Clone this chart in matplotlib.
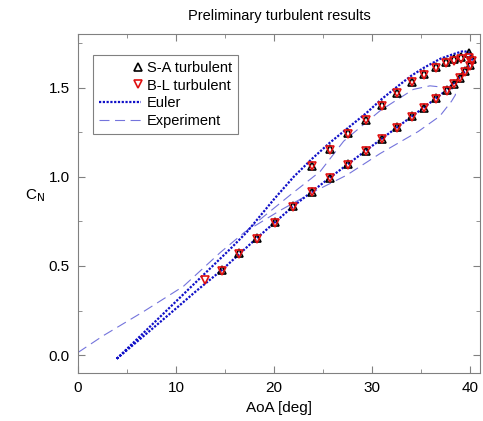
import numpy as np
import matplotlib
matplotlib.use("Agg")
import matplotlib.pyplot as plt
from matplotlib.legend_handler import HandlerLine2D

plt.rcParams['font.family'] = ['Liberation Sans', 'DejaVu Sans']

# S-A turbulent: lower branch (pitch up) then upper branch (pitch down)
sa_aoa = [14.66, 16.46, 18.23, 20.13, 21.97, 23.85, 25.71, 27.58, 29.36, 30.99,
          32.58, 34.05, 35.31, 36.53, 37.62, 38.37, 38.98, 39.49, 39.93, 40.17,
          39.83, 39.08, 38.30, 37.55, 36.53, 35.31, 34.05, 32.52, 30.99, 29.36,
          27.58, 25.71, 23.85]
sa_cn = [0.477, 0.572, 0.656, 0.745, 0.836, 0.915, 0.996, 1.071, 1.147, 1.213,
         1.279, 1.340, 1.387, 1.439, 1.484, 1.522, 1.556, 1.594, 1.628, 1.660,
         1.692, 1.672, 1.658, 1.645, 1.617, 1.575, 1.534, 1.471, 1.402, 1.320,
         1.245, 1.156, 1.062]

# B-L turbulent
bl_aoa = [12.96, 14.66, 16.46, 18.23, 20.13, 21.97, 23.85, 25.71, 27.58, 29.36,
          30.99, 32.58, 34.05, 35.31, 36.53, 37.62, 38.37, 38.98, 39.49, 39.93,
          40.17, 39.83, 39.08, 38.30, 37.55, 36.53, 35.31, 34.05, 32.52, 30.99,
          29.36, 27.58, 25.71, 23.85]
bl_cn = [0.419, 0.474, 0.568, 0.652, 0.742, 0.832, 0.912, 0.993, 1.068, 1.143,
         1.210, 1.276, 1.337, 1.384, 1.436, 1.480, 1.518, 1.552, 1.590, 1.622,
         1.648, 1.668, 1.660, 1.650, 1.640, 1.612, 1.570, 1.530, 1.467, 1.398,
         1.316, 1.240, 1.152, 1.058]

# Euler loop
eu_aoa = [3.95, 6.0, 8.0, 10.0, 12.0, 14.66, 18.23, 21.97, 25.71, 29.36, 32.58,
          35.31, 37.62, 38.98, 39.8, 40.2,
          39.85, 39.3, 38.3, 37.0, 35.3, 34.0, 32.5, 31.0, 29.4, 27.6, 25.7,
          23.85, 22.0, 20.0, 17.2, 15.5, 12.0, 8.0, 3.95]
eu_cn = [-0.02, 0.075, 0.168, 0.262, 0.357, 0.477, 0.656, 0.836, 0.996, 1.147,
         1.279, 1.390, 1.487, 1.560, 1.615, 1.660,
         1.698, 1.705, 1.688, 1.663, 1.612, 1.567, 1.503, 1.437, 1.357, 1.277,
         1.192, 1.100, 1.000, 0.875, 0.689, 0.594, 0.408, 0.195, -0.02]

# Experiment loop
ex_aoa = [0.0, 2.6, 6.7, 10.75, 14.5, 17.0, 20.6, 24.0, 27.4, 30.8, 34.7, 36.9,
          38.1, 38.5, 38.3, 37.6, 35.9, 34.2, 32.2, 30.8, 27.1, 24.7, 21.6,
          19.0, 17.0]
ex_cn = [0.015, 0.11, 0.245, 0.386, 0.575, 0.69, 0.811, 0.915, 1.009, 1.13,
         1.254, 1.34, 1.424, 1.46, 1.49, 1.50, 1.51, 1.49, 1.42, 1.37, 1.20,
         1.03, 0.896, 0.78, 0.69]


class RightMarker(HandlerLine2D):
    # legend marker sits near the right end of the handle, next to the text
    def get_xdata(self, legend, xdescent, ydescent, width, height, fontsize):
        x = np.array([-xdescent + width * 0.84, -xdescent + width * 1.0])
        return x, x


fig = plt.figure(figsize=(4.83, 4.21), dpi=100)
ax = fig.add_axes([0.1615, 0.114, 0.8323, 0.805])

ax.plot(ex_aoa, ex_cn, color='#7474dc', lw=0.8, dashes=(9, 5), label='Experiment')
ax.plot(eu_aoa, eu_cn, color='#1010c8', lw=1.6, ls=(0, (1, 0.7)), label='Euler')
l1, = ax.plot(sa_aoa, sa_cn, ls='none', marker='^', ms=6, mfc='none',
              mec='black', mew=1.2, label='S-A turbulent')
l2, = ax.plot(bl_aoa, bl_cn, ls='none', marker='v', ms=6, mfc='none',
              mec='#e01010', mew=1.2, label='B-L turbulent')

ax.set_xlim(0, 41)
ax.set_ylim(-0.1, 1.8)
ax.set_xticks([0, 10, 20, 30, 40])
ax.set_xticks([5, 15, 25, 35], minor=True)
ax.set_yticks([0.0, 0.5, 1.0, 1.5])
ax.set_yticks([0.25, 0.75, 1.25, 1.75], minor=True)
ax.set_yticklabels(['0.0', '0.5', '1.0', '1.5'])
ax.tick_params(which='both', direction='in', top=True, right=True,
               color='#808080', labelsize=11, pad=6)
ax.tick_params(which='major', length=5)
ax.tick_params(which='minor', length=3)
for s in ax.spines.values():
    s.set_color('#808080')

ax.set_title('Preliminary turbulent results', fontsize=10.5, pad=10)
ax.set_xlabel('AoA [deg]', fontsize=11, labelpad=4)
ax.set_ylabel(r'C$_\mathrm{N}$', fontsize=11, rotation=0, labelpad=10)

handles, labels = ax.get_legend_handles_labels()
order = [2, 3, 1, 0]
leg = ax.legend([handles[i] for i in order], [labels[i] for i in order],
                loc='upper left', bbox_to_anchor=(0.037, 0.938), borderaxespad=0,
                fancybox=False, edgecolor='#808080', framealpha=1, fontsize=10.5,
                numpoints=1, handlelength=2.9, handletextpad=0.4, labelspacing=0.25,
                borderpad=0.4, handler_map={l1: RightMarker(), l2: RightMarker()})
leg.get_frame().set_linewidth(0.8)

fig.savefig('out.png', dpi=100)
